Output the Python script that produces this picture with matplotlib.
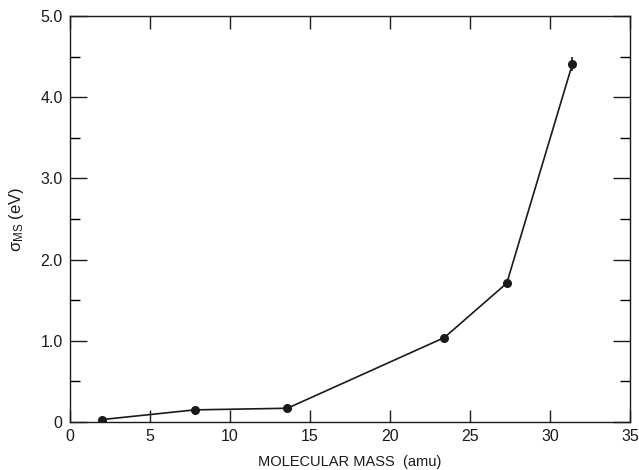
import numpy as np
import matplotlib.pyplot as plt
from matplotlib.ticker import MultipleLocator

plt.rcParams["font.family"] = ["Liberation Sans", "DejaVu Sans"]
plt.rcParams["mathtext.fontset"] = "custom"
plt.rcParams["mathtext.rm"] = "Liberation Sans"
plt.rcParams["mathtext.it"] = "Liberation Sans:italic"

# molecular mass (amu) vs sigma_MS (eV)
mass = [2.0, 7.8, 13.6, 23.4, 27.3, 31.4]
sigma = [0.03, 0.15, 0.17, 1.04, 1.71, 4.41]
sigma_err = [0.0, 0.0, 0.05, 0.0, 0.0, 0.09]

x_ticks = [0, 5, 10, 15, 20, 25, 30, 35]
y_ticks = [0, 1, 2, 3, 4, 5]
y_labels = ["0", "1.0", "2.0", "3.0", "4.0", "5.0"]

ink = "#1a1a1a"

fig = plt.figure(figsize=(6.39, 4.70), dpi=100)
ax = fig.add_axes([0.109, 0.102, 0.877, 0.864])

ax.plot(mass, sigma, color=ink, linewidth=1.2, zorder=2)
ax.errorbar(mass, sigma, yerr=sigma_err, fmt="o", color=ink, markersize=5.5,
            elinewidth=1.2, capsize=0, zorder=3)

ax.set_xlim(0, 35)
ax.set_ylim(0, 5.0)
ax.set_xticks(x_ticks)
ax.set_yticks(y_ticks)
ax.set_yticklabels(y_labels)
ax.yaxis.set_minor_locator(MultipleLocator(0.5))

ax.tick_params(which="major", direction="in", length=9, width=1.0,
               top=True, right=True, labelsize=11.5, colors=ink, pad=5)
ax.tick_params(axis="y", which="major", length=12)
ax.tick_params(which="minor", direction="in", length=7, width=1.0,
               left=True, right=True)
for s in ax.spines.values():
    s.set_linewidth(1.0)
    s.set_color(ink)

ax.set_xlabel("MOLECULAR MASS  (amu)", fontsize=10.5, color=ink, labelpad=8)
ax.set_ylabel("σ$_{\\mathrm{MS}}$ (eV)", fontsize=12, color=ink, labelpad=10)

fig.savefig("out.png", dpi=100)
